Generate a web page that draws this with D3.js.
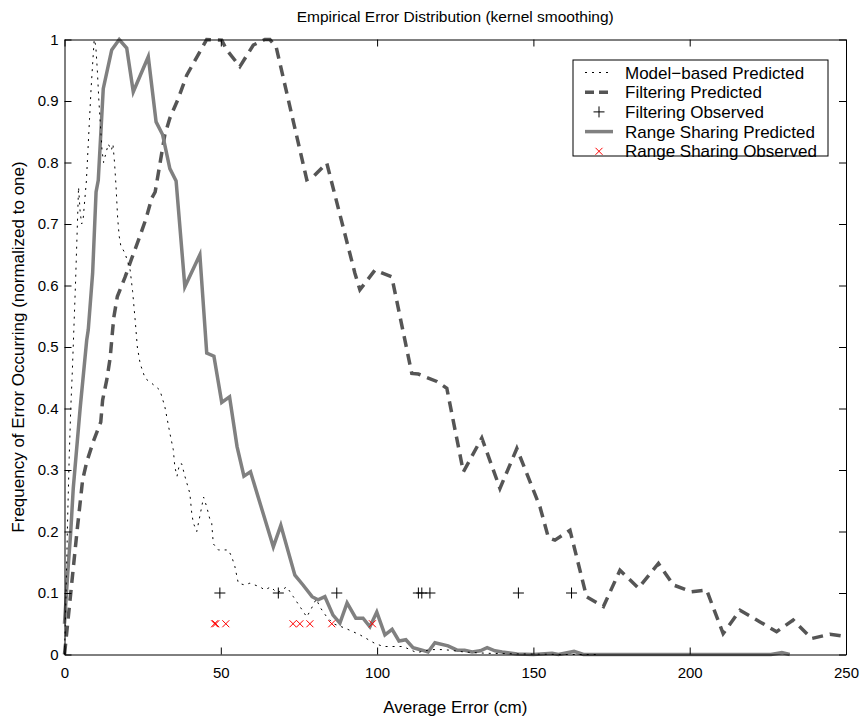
<!DOCTYPE html>
<html>
<head>
<meta charset="UTF-8">
<title>Empirical Error Distribution</title>
<script src="https://cdn.jsdelivr.net/npm/d3@7"></script>
<style type="text/css">
	body { margin:0; background-color:white; }
	text { font-family: "Liberation Sans", Arial, sans-serif; }
</style>
</head>
<body>
<script type="text/javascript">

// model-based predicted (dotted)
var modelX = [0,0.5,1,1.5,2,2.5,3,3.5,4,4.5,5,5.5,6,6.5,7,7.5,8,8.5,9,9.5,10,10.5,11,11.5,12,12.5,13,14,15,15.5,16,16.5,17,17.5,18,19.4,21,21.8,22.6,23.3,24.2,25.8,27.9,30.5,32.1,33.7,34.8,35.3,36,36.8,37.5,38.5,40.1,40.7,41.2,42.3,43.5,44.5,45.5,46.5,47.1,47.6,49.2,52.4,53.5,54.5,55.6,57.7,59.3,62.5,64.1,66,68,71.1,73.2,75.3,77.5,79,80.5,82,83.9,86,89.7,94.5,99.3,102,106.3,108.3,112.7,117,120.7,123.3,128,135,145,160,170];
var modelY = [0,0.1,0.22,0.32,0.4,0.46,0.53,0.6,0.68,0.76,0.72,0.7,0.71,0.74,0.77,0.82,0.87,0.92,0.96,1.0,0.99,0.95,0.9,0.86,0.82,0.8,0.81,0.83,0.82,0.83,0.8,0.76,0.71,0.68,0.665,0.652,0.625,0.59,0.544,0.5,0.473,0.449,0.441,0.43,0.403,0.36,0.333,0.305,0.29,0.31,0.31,0.29,0.262,0.23,0.214,0.2,0.23,0.256,0.24,0.22,0.213,0.18,0.17,0.17,0.159,0.143,0.116,0.113,0.116,0.11,0.105,0.11,0.1,0.11,0.094,0.078,0.061,0.075,0.09,0.075,0.061,0.05,0.043,0.032,0.018,0.013,0.013,0.013,0.003,0.008,0.008,0.007,0.004,0.002,0.001,0,0];

// filtering predicted (dashed)
var filtX = [0,2,4,5.8,7.1,9.2,11.6,12.2,13.5,14.6,15.4,15.8,16.9,19.4,21.5,23.9,26.1,27.9,29,30.6,32.1,33.7,36.4,39.1,41.2,45.5,50.3,51.9,56.1,60.4,64.1,65.7,67.7,77.5,79.6,83.9,92.9,94.5,99.3,104.7,111.1,113.2,119.1,122.3,127.6,133.5,139.3,144.7,152.1,154.8,156.9,161.7,167,172.4,177.7,183.6,190,194.8,200.6,205.4,210.7,216.1,222.5,227.8,233.1,239,244.9,250];
var filtY = [0,0.1,0.2,0.284,0.313,0.346,0.378,0.414,0.446,0.482,0.528,0.549,0.582,0.614,0.644,0.677,0.709,0.742,0.752,0.8,0.845,0.872,0.904,0.942,0.961,1.0,0.999,0.983,0.956,0.991,1.0,1.0,0.988,0.772,0.777,0.799,0.62,0.593,0.625,0.614,0.457,0.456,0.444,0.433,0.297,0.352,0.27,0.335,0.24,0.19,0.186,0.202,0.094,0.078,0.137,0.108,0.148,0.113,0.102,0.105,0.034,0.072,0.053,0.037,0.056,0.026,0.033,0.029];

// filtering observed (+)
var filtObsX = [49.7, 68.4, 87.1, 113.2, 114.3, 116.9, 145.2, 162.2];
var filtObsY = [0.1, 0.1, 0.1, 0.1, 0.1, 0.1, 0.1, 0.1];

// range sharing predicted (solid)
var rangeX = [0,0.5,1,2,2.8,5,7.1,7.6,9,10.1,10.8,12.4,15.1,17.5,19.9,22,26.8,29.3,31.4,33.7,35.7,38.5,43.3,45.5,47.8,50.3,52.8,55.2,57.4,59.5,66.8,69.2,73.7,76.3,79.2,81.1,83.3,85.9,88.1,90.4,93.2,95.5,97.7,99.9,102.5,104.8,107,109.2,111.5,114.4,116.3,118.5,122.7,125.6,128,130.4,133,135.2,137.7,140,144.8,150,156,158,163,166,170,200,226,229.5,232];
var rangeY = [0.05,0.09,0.13,0.2,0.27,0.4,0.511,0.528,0.62,0.752,0.771,0.92,0.983,1.0,0.986,0.915,0.972,0.866,0.845,0.79,0.77,0.598,0.65,0.49,0.485,0.41,0.419,0.338,0.29,0.297,0.175,0.21,0.129,0.113,0.094,0.089,0.094,0.064,0.051,0.084,0.059,0.059,0.045,0.069,0.032,0.041,0.022,0.024,0.011,0.007,0.004,0.019,0.014,0.007,0.007,0.004,0.006,0.011,0.006,0.004,0.001,0,0.002,0,0.005,0,0,0,0,0.003,0];

// range sharing observed (x)
var rangeObsX = [48, 48.4, 51.6, 73.1, 75.3, 78.5, 85.5, 98.5];
var rangeObsY = [0.05, 0.05, 0.05, 0.05, 0.05, 0.05, 0.05, 0.05];

var xTicks = [0, 50, 100, 150, 200, 250];
var yTicks = [0, 0.1, 0.2, 0.3, 0.4, 0.5, 0.6, 0.7, 0.8, 0.9, 1];
var legendLabels = ['Model\u2212based Predicted', 'Filtering Predicted', 'Filtering Observed', 'Range Sharing Predicted', 'Range Sharing Observed'];

var W = 864, H = 720,
 m = {left: 64.5, right: 18, top: 39.5, bottom: 65.5},
 iw = W - m.left - m.right,
 ih = H - m.top - m.bottom;

var svg = d3.select('body').append('svg')
	.attr('width', W)
	.attr('height', H);

var x = d3.scaleLinear().domain([0, 250]).range([0, iw]),
 y = d3.scaleLinear().domain([0, 1]).range([ih, 0]);

var g = svg.append('g')
	.attr('transform', 'translate(' + m.left + ',' + m.top + ')');

function pts(xs, ys) {
	return xs.map(function(d, i) { return [d, ys[i]]; });
}
var line = d3.line()
	.x(function(d) { return x(d[0]); })
	.y(function(d) { return y(d[1]); });

// curves
g.append('path').datum(pts(filtX, filtY))
	.attr('d', line)
	.attr('fill', 'none')
	.attr('stroke', '#555555')
	.attr('stroke-width', 3.5)
	.attr('stroke-dasharray', '11,7');

g.append('path').datum(pts(rangeX, rangeY))
	.attr('d', line)
	.attr('fill', 'none')
	.attr('stroke', '#808080')
	.attr('stroke-width', 3.5)
	.attr('stroke-linejoin', 'miter');

g.append('path').datum(pts(modelX, modelY))
	.attr('d', line)
	.attr('fill', 'none')
	.attr('stroke', '#000')
	.attr('stroke-width', 1)
	.attr('stroke-dasharray', '2,5');

// markers
function plus(sel, s) {
	sel.append('path')
		.attr('d', 'M' + (-s) + ',0H' + s + 'M0,' + (-s) + 'V' + s)
		.attr('stroke', '#000')
		.attr('stroke-width', 1)
		.attr('fill', 'none');
}
function cross(sel, s) {
	sel.append('path')
		.attr('d', 'M' + (-s) + ',' + (-s) + 'L' + s + ',' + s + 'M' + (-s) + ',' + s + 'L' + s + ',' + (-s))
		.attr('stroke', '#ff0000')
		.attr('stroke-width', 1)
		.attr('fill', 'none');
}

g.selectAll('.fobs').data(pts(filtObsX, filtObsY)).enter().append('g')
	.attr('class', 'fobs')
	.attr('transform', function(d) { return 'translate(' + x(d[0]) + ',' + y(d[1]) + ')'; })
	.each(function() { plus(d3.select(this), 5.5); });

g.selectAll('.robs').data(pts(rangeObsX, rangeObsY)).enter().append('g')
	.attr('class', 'robs')
	.attr('transform', function(d) { return 'translate(' + x(d[0]) + ',' + y(d[1]) + ')'; })
	.each(function() { cross(d3.select(this), 3.5); });

// axes (box with inward ticks on all sides)
var fmt = function(d) { return d3.format('~g')(d); };
var ax = [
	d3.axisBottom(x).tickValues(xTicks).tickSizeInner(-7).tickSizeOuter(0).tickFormat(fmt),
	d3.axisTop(x).tickValues(xTicks).tickSizeInner(-7).tickSizeOuter(0).tickFormat(''),
	d3.axisLeft(y).tickValues(yTicks).tickSizeInner(-7).tickSizeOuter(0).tickFormat(fmt),
	d3.axisRight(y).tickValues(yTicks).tickSizeInner(-7).tickSizeOuter(0).tickFormat('')
];
var pos = ['translate(0,' + ih + ')', 'translate(0,0)', 'translate(0,0)', 'translate(' + iw + ',0)'];
ax.forEach(function(a, i) {
	var ga = g.append('g').attr('transform', pos[i]).call(a);
	ga.selectAll('text').attr('fill', '#000').style('font-size', '15px')
		.style('font-family', '"Liberation Sans", Arial, sans-serif');
	ga.selectAll('line').attr('stroke', '#000');
	ga.select('.domain').attr('stroke', '#000').attr('stroke-width', 1);
	if (i == 0) ga.selectAll('text').attr('dy', '1.05em').attr('y', 8);
	if (i == 2) ga.selectAll('text').attr('x', -6);
});

// titles
svg.append('text')
	.attr('x', m.left + iw / 2)
	.attr('y', 22)
	.attr('text-anchor', 'middle')
	.style('font-size', '15.5px')
	.text('Empirical Error Distribution (kernel smoothing)');

svg.append('text')
	.attr('x', m.left + iw / 2)
	.attr('y', 713)
	.attr('text-anchor', 'middle')
	.style('font-size', '17px')
	.text('Average Error (cm)');

svg.append('text')
	.attr('transform', 'translate(24,' + (m.top + ih / 2) + ') rotate(-90)')
	.attr('text-anchor', 'middle')
	.style('font-size', '17px')
	.text('Frequency of Error Occurring (normalized to one)');

// legend
var lg = svg.append('g').attr('transform', 'translate(573,60)');
lg.append('rect')
	.attr('width', 255)
	.attr('height', 96)
	.attr('fill', 'white')
	.attr('stroke', '#000')
	.attr('stroke-width', 1);

var styles = [
	{stroke: '#000', w: 1, dash: '2,5'},
	{stroke: '#555555', w: 3.5, dash: '9,5'},
	{mark: 'plus'},
	{stroke: '#808080', w: 3.5, dash: null},
	{mark: 'cross'}
];
legendLabels.forEach(function(t, i) {
	var row = lg.append('g').attr('transform', 'translate(0,' + (12.5 + i * 19.7) + ')');
	var s = styles[i];
	if (s.mark == 'plus') {
		plus(row.append('g').attr('transform', 'translate(26,0)'), 5.5);
	} else if (s.mark == 'cross') {
		cross(row.append('g').attr('transform', 'translate(26,0)'), 3.5);
	} else {
		row.append('line')
			.attr('x1', 12).attr('x2', 40)
			.attr('stroke', s.stroke)
			.attr('stroke-width', s.w)
			.attr('stroke-dasharray', s.dash);
	}
	row.append('text')
		.attr('x', 52)
		.attr('y', 6)
		.style('font-size', '17px')
		.text(t);
});

</script>
</body>
</html>
